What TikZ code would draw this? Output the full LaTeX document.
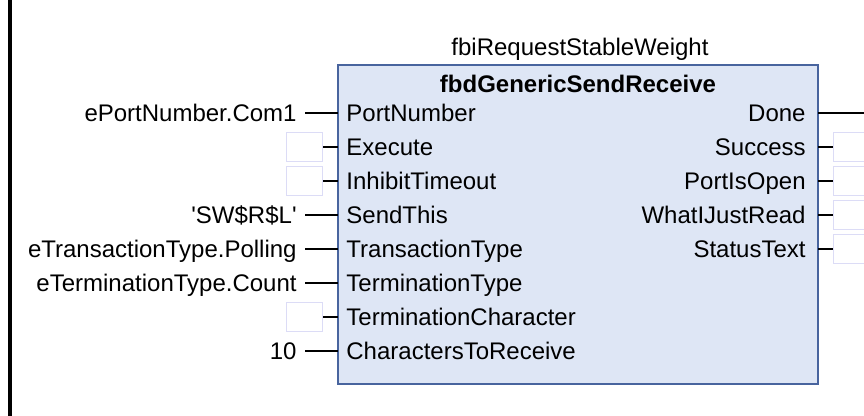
\documentclass[tikz,border=0pt]{standalone}
\usepackage{fontspec}
\setmainfont{Liberation Sans}[Ligatures=TeXOff]
\definecolor{fbfill}{RGB}{222,230,245}
\definecolor{fbline}{RGB}{72,100,158}
\definecolor{boxline}{RGB}{220,220,246}
\tikzset{
    fbblock/.style={draw=fbline, line width=1.1pt, fill=fbfill, minimum width=240pt, minimum height=159.5pt, inner sep=0pt},
    pin/.style={inner ysep=0pt, inner xsep=4pt, text height=8.6pt, text depth=0pt},
    emptybox/.style={draw=boxline, line width=0.6pt, fill=white, minimum width=18pt, minimum height=14.5pt, inner sep=0pt},
    wire/.style={line width=0.8pt}
}
\begin{document}
\begin{tikzpicture}[x=0.5pt, y=-0.5pt, font=\fontsize{12}{14}\selectfont]
        \useasboundingbox (0,0) rectangle (864,416);
        \coordinate (railtop) at (10,0);
        \coordinate (railbot) at (10,416);
        \draw[line width=1.6pt] (railtop) -- (railbot);
        % the block
        \node[fbblock] (fb) at (578,224.5) {};
        \node[pin] (inst) at (580,46.5) {fbiRequestStableWeight};
        \node[pin, font=\fontsize{12}{14}\selectfont\bfseries] (fbtype) at (578,84) {fbdGenericSendReceive};
        \foreach \n/\pinname [count=\i from 0] in {port/PortNumber, exec/Execute, inhibit/InhibitTimeout, send/SendThis,
            trans/TransactionType, term/TerminationType, termchar/TerminationCharacter, count/CharactersToReceive}
            \node[pin, anchor=west] (in-\n) at (338,113+34*\i) {\pinname};
        \foreach \n/\pinname [count=\i from 0] in {done/Done, succ/Success, open/PortIsOpen, read/WhatIJustRead, status/StatusText}
            \node[pin, anchor=east, inner xsep=6pt] (out-\n) at (818,113+34*\i) {\pinname};
        % inputs
        \node[pin, anchor=east] (v-port) at (305,113) {ePortNumber.Com1};
        \node[emptybox, anchor=east] (v-exec) at (323,147) {};
        \node[emptybox, anchor=east] (v-inhibit) at (323,181) {};
        \node[pin, anchor=east] (v-send) at (305,215) {'SW\$R\$L'};
        \node[pin, anchor=east] (v-trans) at (305,249) {eTransactionType.Polling};
        \node[pin, anchor=east] (v-term) at (305,283) {eTerminationType.Count};
        \node[emptybox, anchor=east] (v-termchar) at (323,317) {};
        \node[pin, anchor=east] (v-count) at (305,351) {10};
        \foreach \n in {port, exec, inhibit, send, trans, term, termchar, count}
            \draw[wire] (v-\n) -- (in-\n);
        % outputs
        \coordinate (doneend) at (864,113);
        \draw[wire] (out-done) -- (doneend);
        \node[emptybox, anchor=west] (r-succ) at (833,147) {};
        \node[emptybox, anchor=west] (r-open) at (833,181) {};
        \node[emptybox, anchor=west] (r-read) at (833,215) {};
        \node[emptybox, anchor=west] (r-status) at (833,249) {};
        \foreach \n in {succ, open, read, status}
            \draw[wire] (out-\n) -- (r-\n);
    \end{tikzpicture}
\end{document}
